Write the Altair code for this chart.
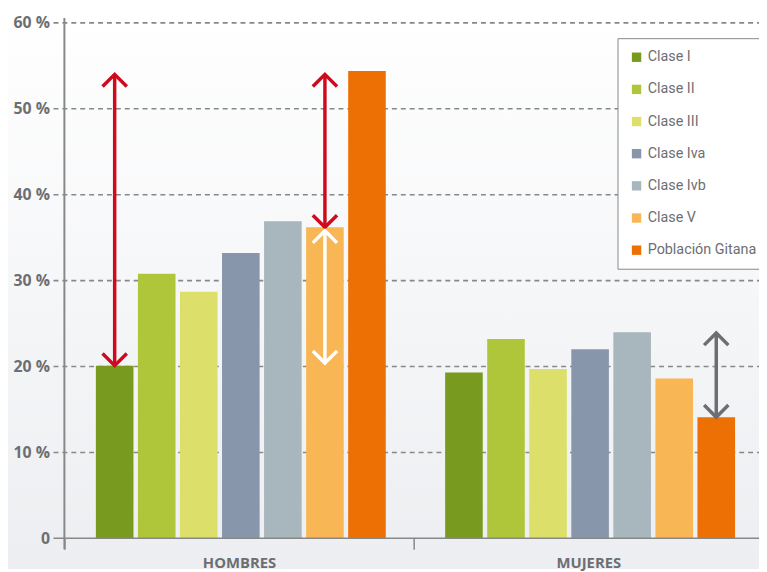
import altair as alt
import pandas as pd

# ---- data ----
clases = ["Clase I", "Clase II", "Clase III", "Clase Iva", "Clase Ivb", "Clase V", "Población Gitana"]
grupos = ["HOMBRES", "MUJERES"]
hombres = [20.1, 30.8, 28.7, 33.2, 36.9, 36.2, 54.4]
mujeres = [19.3, 23.2, 19.7, 22.0, 24.0, 18.6, 14.1]
colores = ["#789b1f", "#afc63b", "#dce06a", "#8896ab", "#a8b6bd", "#f8b754", "#ec7004"]
y_ticks = [0, 10, 20, 30, 40, 50, 60]
grid_vals = [10, 20, 30, 40, 50, 60]

# arrows: group, class (position), start value, end value
arrows_red = {"grupo": ["HOMBRES", "HOMBRES"], "clase": ["Clase I", "Clase V"],
              "y1": [54.0, 54.0], "y2": [20.1, 36.2]}
arrows_white = {"grupo": ["HOMBRES"], "clase": ["Clase V"], "y1": [35.8], "y2": [20.4]}
arrows_grey = {"grupo": ["MUJERES"], "clase": ["Población Gitana"], "y1": [23.9], "y2": [14.1]}

W, H = 702, 521
XR = 706
GREY = "#888888"
TXT = "#6d6e71"

rows = []
for g, vals in zip(grupos, [hombres, mujeres]):
    for c, v in zip(clases, vals):
        rows.append({"grupo": g, "clase": c, "valor": v})
bars_df = pd.DataFrame(rows)

xaxis = alt.Axis(title=None, domain=False, ticks=True, tickBand="extent", tickSize=11,
                 tickColor=GREY, tickWidth=1.5, labelFont="Open Sans", labelFontWeight="bold",
                 labelFontSize=15, labelColor=TXT, labelPadding=6, labelAngle=0, grid=False, zindex=1)
yaxis = alt.Axis(title=None, domain=False, ticks=False, grid=False, values=y_ticks,
                 labelExpr="datum.value == 0 ? '0' : datum.value + ' %'",
                 labelFont="Open Sans", labelFontWeight="bold", labelFontSize=16,
                 labelColor=TXT, labelPadding=15, zindex=1)

xscale = alt.Scale(domain=grupos, paddingInner=0, paddingOuter=0, range=[0, XR])
xoscale = alt.Scale(domain=clases, paddingInner=0.106, paddingOuter=0.706, align=0.53)
yscale = alt.Scale(domain=[0, 60], nice=False)


def X():
    return alt.X("grupo:N", scale=xscale, axis=xaxis, title=None, sort=grupos)


def XO():
    return alt.XOffset("clase:N", scale=xoscale, sort=clases)


def Y(field):
    return alt.Y(field, type="quantitative", scale=yscale, axis=yaxis, title=None)


gradient = alt.LinearGradient(
    gradient="linear",
    stops=[alt.GradientStop(color="#ffffff", offset=0),
           alt.GradientStop(color="#eceef1", offset=1)],
    x1=0, x2=0, y1=0, y2=1,
)

bg = alt.Chart(pd.DataFrame({"a": [0]})).mark_rect(color=gradient).encode(
    x=alt.value(-57), x2=alt.value(W), y=alt.value(-12), y2=alt.value(H + 31)
)

grid = alt.Chart(pd.DataFrame({"v": grid_vals})).mark_rule(
    color=GREY, strokeDash=[5, 4], strokeWidth=1.6
).encode(y=Y("v"), x=alt.value(-11), x2=alt.value(W))

base0 = alt.Chart(pd.DataFrame({"v": [0]})).mark_rule(color=GREY, strokeWidth=1.5).encode(
    y=Y("v"), x=alt.value(-11), x2=alt.value(W)
)

yline = alt.Chart(pd.DataFrame({"a": [0]})).mark_rule(color=GREY, strokeWidth=2).encode(
    x=alt.value(0), y=alt.value(-5), y2=alt.value(H + 11)
)

bars = alt.Chart(bars_df).mark_bar().encode(
    x=X(), xOffset=XO(), y=Y("valor"),
    color=alt.Color(
        "clase:N",
        scale=alt.Scale(domain=clases, range=colores),
        sort=clases,
        legend=alt.Legend(
            title=None, orient="none", legendX=559, legendY=15.5,
            fillColor="white", strokeColor=GREY, padding=12,
            symbolType="square", symbolSize=90, symbolStrokeWidth=0,
            labelFont="Roboto", labelFontSize=14.5, labelColor=TXT,
            rowPadding=17.5, labelOffset=4, labelLimit=200,
        ),
    ),
)

UP = "M-1,1L0,0L1,1"
DOWN = "M-1,-1L0,0L1,-1"


def arrow(d, color):
    df = pd.DataFrame(d)
    base = alt.Chart(df)
    line = base.mark_rule(color=color, strokeWidth=3.5).encode(
        x=X(), xOffset=XO(), y=Y("y1"), y2="y2:Q"
    )
    top = base.mark_point(shape=UP, size=600, filled=False, stroke=color, strokeWidth=3.5,
                          opacity=1).encode(x=X(), xOffset=XO(), y=Y("y1"))
    bot = base.mark_point(shape=DOWN, size=600, filled=False, stroke=color, strokeWidth=3.5,
                          opacity=1).encode(x=X(), xOffset=XO(), y=Y("y2"))
    return [line, top, bot]


layers = [bg, grid, bars, base0, yline]
layers += arrow(arrows_red, "#cf0a1e")
layers += arrow(arrows_white, "#ffffff")
layers += arrow(arrows_grey, "#6d6e71")

chart = alt.layer(*layers).properties(
    width=W, height=H,
    autosize=alt.AutoSizeParams(type="none"),
    padding={"left": 57, "top": 12, "right": 0, "bottom": 31},
).configure_view(stroke=None)

chart.save("out.html", embed_options={"renderer": "svg", "actions": False})
